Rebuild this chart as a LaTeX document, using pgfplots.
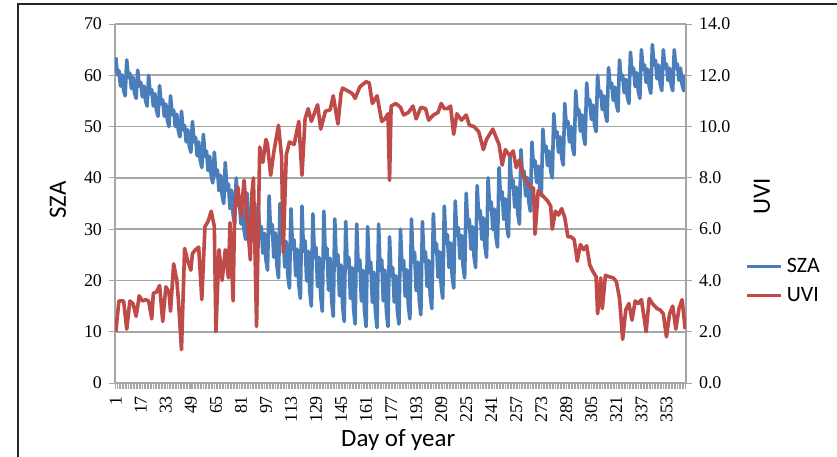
\documentclass[border=0pt]{standalone}
\usepackage{pgfplots}
\pgfplotsset{compat=1.18}
\usepackage{fontspec}
\setmainfont{Liberation Serif}
\newfontfamily\calibri{Carlito}
\definecolor{szablue}{HTML}{4A7EBB}
\definecolor{uvired}{HTML}{BE4B48}
\definecolor{axgray}{HTML}{A6A6A6}
\newcommand\tickfont{\fontsize{9}{10.5}\selectfont}
\newcommand\titlefont{\calibri\fontsize{12.5}{15}\selectfont}
\newcommand\legfont{\calibri\fontsize{11}{13}\selectfont}
\pgfplotsset{
  common/.style={
    scale only axis, width=285.5bp, height=179.5bp,
    at={(57.5bp,37bp)}, anchor=south west,
    xmin=0.5, xmax=365.5,
    tick align=outside,
    /pgf/number format/assume math mode=true,
    yticklabel style={font=\tickfont},
    label style={font=\titlefont},
  }
}
\begin{document}
\begin{tikzpicture}[x=1bp,y=1bp]
\path[use as bounding box] (0,0) rectangle (418.5,228.5);
\draw[black!85, line width=0.8bp] (9,-1) -- (9,226.5) -- (419,226.5);
\begin{axis}[common,
  ymin=0, ymax=70, ytick={0,10,...,70},
  axis x line*=bottom, axis y line*=left,
  axis line style={axgray, line width=0.8bp},
  ymajorgrids, grid style={axgray, line width=0.8bp},
  xtick={1,17,...,353}, minor xtick={1,...,365},
  xticklabel style={rotate=90, anchor=east, font=\tickfont},
  major tick length=3bp, minor tick length=3bp,
  tick style={axgray, line width=0.4bp},
  minor tick style={axgray, line width=0.35bp},
  xlabel={Day of year}, ylabel={SZA},
  xlabel style={at={(axis description cs:0.496,-0.159)}, anchor=center},
  ylabel style={at={(axis description cs:-0.1,0.51)}, anchor=center},
]
\addplot[szablue, line width=1.8bp, line join=round] coordinates {
(1,63.5)(2,60.1)(3,60.9)(4,57.9)(5,60.1)(6,57.1)(7,56)
(8,63)(9,59.6)(10,60.4)(11,57.4)(12,59.6)(13,56.6)(14,55.5)
(15,61)(16,57.9)(17,58.6)(18,55.8)(19,57.9)(20,55.1)(21,54)
(22,60)(23,56.4)(24,57.2)(25,54)(26,56.4)(27,53.2)(28,52)
(29,58)(30,54.4)(31,55.2)(32,52)(33,54.4)(34,51.2)(35,50)
(36,56)(37,52.4)(38,53.2)(39,50)(40,52.4)(41,49.2)(42,48)
(43,53)(44,49.4)(45,50.2)(46,47)(47,49.4)(48,46.2)(49,45)
(50,51)(51,47)(52,47.9)(53,44.3)(54,47)(55,43.4)(56,42)
(57,48.5)(58,44.2)(59,45.2)(60,41.4)(61,44.2)(62,40.4)(63,39)
(64,45)(65,40.5)(66,41.5)(67,37.5)(68,40.5)(69,36.5)(70,35)
(71,43)(72,37.6)(73,38.8)(74,34)(75,37.6)(76,32.8)(77,31)
(78,40)(79,34.6)(80,35.8)(81,31)(82,34.6)(83,29.8)(84,28)
(85,37)(86,31.6)(87,32.8)(88,28)(89,31.6)(90,26.8)(91,25)
(92,35)(93,29.2)(94,30.5)(95,25.3)(96,29.2)(97,24)(98,22)
(99,36.5)(100,29.3)(101,30.9)(102,24.5)(103,29.3)(104,22.9)(105,20.5)
(106,35)(107,27.6)(108,29.2)(109,22.6)(110,27.6)(111,21)(112,18.5)
(113,34)(114,26.1)(115,27.9)(116,20.9)(117,26.1)(118,19.1)(119,16.5)
(120,34.5)(121,25.7)(122,27.7)(123,19.9)(124,25.7)(125,17.9)(126,15)
(127,33)(128,24.5)(129,26.4)(130,18.8)(131,24.5)(132,16.9)(133,14)
(134,33.5)(135,24.3)(136,26.3)(137,18.1)(138,24.3)(139,16.1)(140,13)
(141,32)(142,23)(143,25)(144,17)(145,23)(146,15)(147,12)
(148,31.5)(149,22.5)(150,24.5)(151,16.5)(152,22.5)(153,14.5)(154,11.5)
(155,31)(156,22)(157,24)(158,16)(159,22)(160,14)(161,11)
(162,30.5)(163,21.6)(164,23.6)(165,15.7)(166,21.6)(167,13.8)(168,10.8)
(169,31)(170,22)(171,24)(172,16)(173,22)(174,14)(175,11)
(176,28.5)(177,20.9)(178,22.5)(179,15.8)(180,20.9)(181,14.1)(182,11.5)
(183,30)(184,22.1)(185,23.9)(186,16.9)(187,22.1)(188,15.1)(189,12.5)
(190,32)(191,23.6)(192,25.5)(193,18)(194,23.6)(195,16.1)(196,13.3)
(197,31.5)(198,23.9)(199,25.6)(200,18.8)(201,23.9)(202,17.1)(203,14.5)
(204,33)(205,25.6)(206,27.2)(207,20.6)(208,25.6)(209,19)(210,16.5)
(211,34.5)(212,27.3)(213,28.9)(214,22.5)(215,27.3)(216,20.9)(217,18.5)
(218,35.5)(219,28.8)(220,30.3)(221,24.3)(222,28.8)(223,22.8)(224,20.5)
(225,37)(226,30.5)(227,31.9)(228,26.1)(229,30.5)(230,24.7)(231,22.5)
(232,38.5)(233,32.2)(234,33.6)(235,28)(236,32.2)(237,26.6)(238,24.5)
(239,40)(240,33.9)(241,35.3)(242,29.9)(243,33.9)(244,28.5)(245,26.5)
(246,42)(247,35.9)(248,37.3)(249,31.9)(250,35.9)(251,30.5)(252,28.5)
(253,44)(254,38.2)(255,39.5)(256,34.3)(257,38.2)(258,33)(259,31)
(260,45.5)(261,40.1)(262,41.3)(263,36.5)(264,40.1)(265,35.3)(266,33.5)
(267,47)(268,42.3)(269,43.3)(270,39.1)(271,42.3)(272,38.1)(273,36.5)
(274,49.5)(275,45.2)(276,46.2)(277,42.4)(278,45.2)(279,41.4)(280,40)
(281,52.5)(282,48)(283,49)(284,45)(285,48)(286,44)(287,42.5)
(288,54.5)(289,50)(290,51)(291,47)(292,50)(293,46)(294,44.5)
(295,57)(296,52.3)(297,53.3)(298,49.1)(299,52.3)(300,48.1)(301,46.5)
(302,58.5)(303,54.2)(304,55.2)(305,51.4)(306,54.2)(307,50.4)(308,49)
(309,60)(310,56)(311,56.9)(312,53.3)(313,56)(314,52.4)(315,51)
(316,61.5)(317,57.7)(318,58.5)(319,55.1)(320,57.7)(321,54.3)(322,53)
(323,63)(324,59.2)(325,60)(326,56.6)(327,59.2)(328,55.8)(329,54.5)
(330,64.5)(331,60.5)(332,61.4)(333,57.8)(334,60.5)(335,56.9)(336,55.5)
(337,65)(338,61.2)(339,62)(340,58.6)(341,61.2)(342,57.8)(343,56.5)
(344,66)(345,62)(346,62.9)(347,59.3)(348,62)(349,58.4)(350,57)
(351,65)(352,61.4)(353,62.2)(354,59)(355,61.4)(356,58.2)(357,57)
(358,65)(359,61.4)(360,62.2)(361,59)(362,61.4)(363,58.2)(364,57)
(365,60)
};
\end{axis}
\begin{axis}[common,
  ymin=0, ymax=14, ytick={0,2,...,14},
  axis y line*=right, axis x line=none, xtick=\empty,
  axis line style={axgray, line width=0.8bp},
  major tick length=3bp,
  tick style={axgray, line width=0.4bp},
  yticklabel style={/pgf/number format/fixed, /pgf/number format/fixed zerofill, /pgf/number format/precision=1},
  ylabel={UVI},
  ylabel style={at={(axis description cs:1.133,0.52)}, anchor=center},
  legend style={at={(axis description cs:1.103,0.284)}, anchor=west, draw=none, fill=none, font=\legfont, inner sep=0pt, row sep=2bp, /tikz/every even column/.append style={column sep=1bp}},
  legend cell align=left,
  legend image code/.code={\draw[#1] (0bp,0bp) -- (17bp,0bp);},
]
\addlegendimage{szablue, line width=1.8bp}
\addlegendentry{SZA}
\addplot[uvired, line width=1.8bp, line join=round] coordinates {
(1,2.0)(3,3.2)(6,3.2)(8,2.1)(10,3.2)(12,3.1)(14,2.6)(16,3.4)(18,3.2)(20,3.25)
(22,3.2)(24,2.5)(25,3.5)(27,3.55)(29,3.8)(31,2.4)(33,3.75)(35,3.55)(36,2.8)(38,4.65)
(40,4.0)(41,3.25)(43,1.3)(45,5.25)(47,4.75)(49,4.4)(50,5.05)(52,5.2)(54,5.3)(56,3.25)
(58,6.1)(60,6.3)(62,6.7)(64,6.1)(65,2.0)(67,5.2)(69,4.0)(71,5.2)(73,4.1)(74,6.25)
(76,3.2)(77,6.75)(79,7.65)(81,6.5)(83,7.9)(85,6.4)(87,4.8)(88,7.4)(89,8.0)(91,2.2)
(93,9.2)(95,8.6)(97,9.5)(98,9.3)(100,8.1)(102,9.0)(105,10.05)(107,8.8)(108,5.1)(110,8.9)
(112,9.4)(115,9.3)(117,9.9)(118,10.2)(120,8.1)(122,10.3)(124,10.7)(126,10.2)(130,10.85)(132,9.9)
(135,10.6)(138,10.65)(140,11.2)(143,10.1)(145,11.3)(146,11.5)(149,11.4)(152,11.3)(154,11.1)(157,11.55)
(160,11.7)(161,11.75)(163,11.7)(165,10.9)(168,11.2)(171,10.2)(173,10.3)(175,10.5)(176,7.9)(177,10.8)
(180,10.9)(183,10.75)(185,10.45)(188,10.55)(191,10.8)(193,10.3)(196,10.75)(199,10.7)(201,10.25)(204,10.45)
(207,10.55)(209,10.9)(211,10.7)(213,10.7)(215,10.8)(217,9.7)(219,10.5)(222,10.25)(225,10.45)(227,10.05)
(230,10.0)(233,9.8)(236,9.1)(238,9.5)(240,9.7)(242,9.9)(244,9.6)(246,9.3)(248,8.5)(250,9.1)
(253,8.85)(255,9.05)(257,8.4)(259,8.7)(261,8.2)(263,7.9)(266,7.65)(268,7.6)(269,5.8)(271,7.5)
(274,7.3)(277,7.1)(279,6.9)(280,6.0)(282,6.7)(284,6.55)(286,6.8)(288,6.45)(290,5.7)(292,5.7)
(294,5.6)(296,4.75)(298,5.4)(300,5.2)(302,5.35)(304,4.6)(306,4.35)(308,4.15)(309,2.7)(311,4.1)
(312,2.9)(314,4.2)(316,4.15)(319,4.1)(321,3.95)(323,3.3)(325,1.7)(327,2.85)(329,3.1)(331,2.45)
(333,3.2)(335,3.1)(337,3.25)(340,2.0)(342,3.3)(344,3.1)(347,2.9)(349,2.85)(351,2.7)(353,1.8)
(355,2.7)(357,3.0)(359,2.1)(361,2.9)(363,3.25)(365,2.1)
};
\addlegendentry{UVI}
\end{axis}
\end{tikzpicture}
\end{document}
